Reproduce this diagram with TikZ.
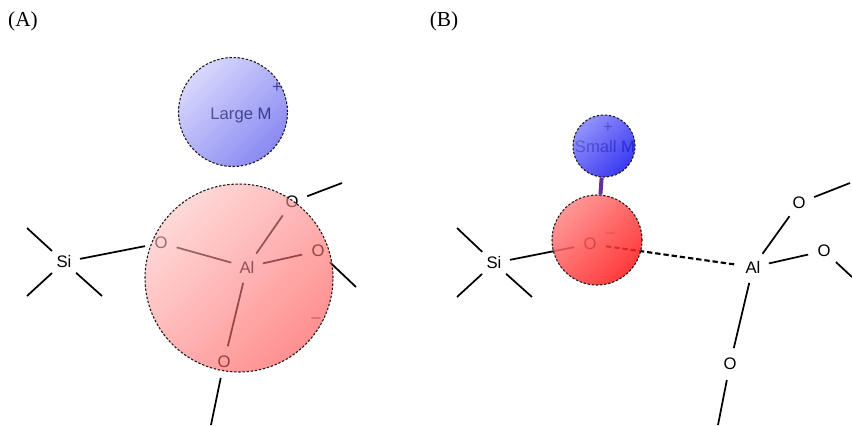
\documentclass[tikz,border=0pt]{standalone}
\usepackage{fontspec}
\usetikzlibrary{shadings}
\setmainfont{Liberation Serif}
\newfontfamily\atomfont{Liberation Sans}
\definecolor{ionbond}{RGB}{100,45,160}
\definecolor{bigMa}{RGB}{217,217,255}
\definecolor{bigMb}{RGB}{124,124,242}
\definecolor{bigMc}{RGB}{30,30,230}
\definecolor{smallMa}{RGB}{149,149,255}
\definecolor{smallMb}{RGB}{75,75,246}
\definecolor{smallMc}{RGB}{2,2,237}
\definecolor{cageAa}{RGB}{255,217,217}
\definecolor{cageAb}{RGB}{255,130,130}
\definecolor{cageAc}{RGB}{255,43,43}
\definecolor{oxBa}{RGB}{255,155,155}
\definecolor{oxBb}{RGB}{255,78,78}
\definecolor{oxBc}{RGB}{255,0,0}

\begin{document}
\begin{tikzpicture}[x=0.75pt,y=0.75pt,yscale=-1,xscale=1,
	atom/.style={circle,inner sep=0pt,minimum size=24pt,font=\atomfont\fontsize{12.5}{14}\selectfont},
	charge/.style={inner sep=0pt,font=\atomfont\fontsize{12.5}{14}\selectfont},
	bond/.style={line width=1.3pt},
	ion/.style={circle,inner sep=0pt,fill opacity=#1,draw=black!90,line width=0.8pt,dash pattern=on 1.8pt off 1.3pt},
	tint/.style n args={3}{upper left=#1,upper right=#2,lower left=#2,lower right=#3},
	panel/.style={inner sep=0pt,font=\fontsize{16}{18}\selectfont}]
	\useasboundingbox (0,0) rectangle (852,425);
	% panel labels
	\node [panel] (labA) at (23,21) {(A)};
	\node [panel] (labB) at (444,21) {(B)};
	% (A) framework, charge spread over the AlO4 unit
	\node [atom] (siA) at (64,262) {Si};
	\node [atom] (oA1) at (161,243) {O};
	\node [atom] (alA) at (247,267) {Al};
	\node [atom] (oA2) at (292,202) {O};
	\node [atom] (oA3) at (318,251) {O};
	\node [atom] (oA4) at (224,362) {O};
	\coordinate (sA1) at (27,228);
	\coordinate (sA2) at (27,296);
	\coordinate (sA3) at (102,296);
	\coordinate (eA2) at (342,183);
	\coordinate (eA3) at (356,287);
	\coordinate (eA4) at (211,425);
	\draw [bond] (siA) -- (sA1);
	\draw [bond] (siA) -- (sA2);
	\draw [bond] (siA) -- (sA3);
	\draw [bond] (siA) -- (oA1);
	\draw [bond] (oA1) -- (alA);
	\draw [bond] (alA) -- (oA2);
	\draw [bond] (alA) -- (oA3);
	\draw [bond] (alA) -- (oA4);
	\draw [bond] (oA2) -- (eA2);
	\draw [bond] (oA3) -- (eA3);
	\draw [bond] (oA4) -- (eA4);
	\node [charge] (minA) at (316,318) {$-$};
	\node [charge] (txtLM) at (241,115) {Large M};
	\node [charge] (plusA) at (277,88) {+};
	\node [ion=0.6,minimum size=81.75pt,tint={bigMa}{bigMb}{bigMc}] (largeM) at (233,112) {};
	\node [ion=0.6,minimum size=141pt,tint={cageAa}{cageAb}{cageAc}] (cageA) at (239,278) {};
	% (B) framework, charge held on one oxygen
	\node [atom] (siB) at (494,263) {Si};
	\node [atom] (oB) at (590,244) {O};
	\node [atom] (alB) at (753,267) {Al};
	\node [atom] (oB2) at (799,203) {O};
	\node [atom] (oB3) at (824,251) {O};
	\node [atom] (oB4) at (730,364) {O};
	\coordinate (sB1) at (457,228);
	\coordinate (sB2) at (457,297);
	\coordinate (sB3) at (532,297);
	\coordinate (eB2) at (850,183);
	\coordinate (eB3) at (852,277);
	\coordinate (eB4) at (718,425);
	\draw [bond] (siB) -- (sB1);
	\draw [bond] (siB) -- (sB2);
	\draw [bond] (siB) -- (sB3);
	\draw [bond] (siB) -- (oB);
	\draw [bond,line width=1.6pt,dash pattern=on 4pt off 2.2pt] (oB) -- (alB);
	\draw [bond] (alB) -- (oB2);
	\draw [bond] (alB) -- (oB3);
	\draw [bond] (alB) -- (oB4);
	\draw [bond] (oB2) -- (eB2);
	\draw [bond] (oB3) -- (eB3);
	\draw [bond] (oB4) -- (eB4);
	\node [charge] (minB) at (610,233) {$-$};
	\node [charge] (txtSM) at (605,147) {Small M};
	\node [charge] (plusB) at (608,128) {+};
	\node [ion=0.85,minimum size=46.5pt,tint={smallMa}{smallMb}{smallMc}] (smallM) at (604,146) {};
	\node [ion=0.85,minimum size=67.5pt,tint={oxBa}{oxBb}{oxBc}] (oxB) at (597,240) {};
	\draw [ionbond,line width=3pt] (smallM) -- (oxB);
	\end{tikzpicture}
\end{document}
